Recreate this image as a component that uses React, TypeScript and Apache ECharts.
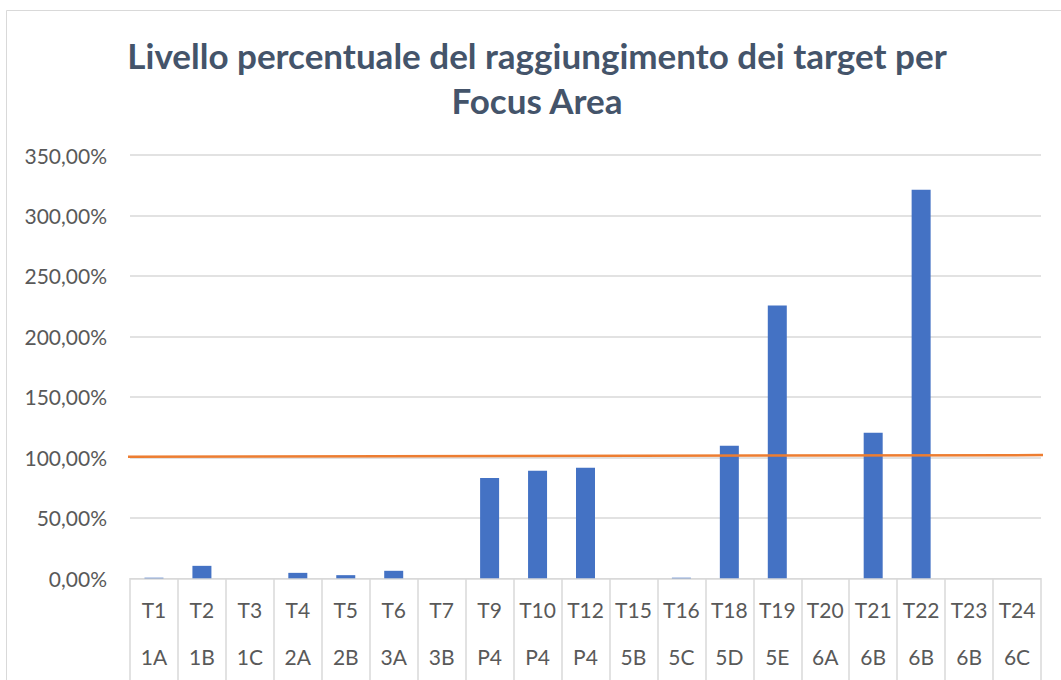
import React, { useEffect, useRef } from "react";
import * as echarts from "echarts";

const targets = ["T1", "T2", "T3", "T4", "T5", "T6", "T7", "T9", "T10", "T12", "T15", "T16", "T18", "T19", "T20", "T21", "T22", "T23", "T24"];
const focusAreas = ["1A", "1B", "1C", "2A", "2B", "3A", "3B", "P4", "P4", "P4", "5B", "5C", "5D", "5E", "6A", "6B", "6B", "6B", "6C"];
const values = [0.5, 10.3, 0, 4.5, 2.6, 6.2, 0, 82.9, 88.9, 91.4, 0, 0.5, 109.6, 225.6, 0, 120.3, 321.3, 0, 0];
// reference line (~100%), drawn slightly beyond the plot as in the original
const targetLine: [number, number][] = [[-0.0044, 100.5], [1.022, 101.9]];
const yTicks = { min: 0, max: 350, interval: 50 };

const FONT = "Lato";

export default function App() {
  const ref = useRef<HTMLDivElement>(null);
  useEffect(() => {
    if (!ref.current) return;
    const chart = echarts.init(ref.current, undefined, { renderer: "svg" });
    const labelColor = "#595959";
    const gridColor = "#d9d9d9";
    chart.setOption({
      animation: false,
      backgroundColor: "#ffffff",
      title: {
        text: "Livello percentuale del raggiungimento dei target per\nFocus Area",
        left: 537,
        textAlign: "center",
        top: 32,
        padding: 0,
        textStyle: {
          fontFamily: FONT,
          fontSize: 35,
          fontWeight: "bold",
          color: "#44546A",
          lineHeight: 45,
        },
      },
      graphic: [
        {
          type: "rect",
          shape: { x: 6.5, y: 10.5, width: 1100, height: 720 },
          style: { fill: "none", stroke: gridColor, lineWidth: 1 },
          silent: true,
        },
      ],
      grid: { left: 130, right: 20, top: 155, bottom: 101.7, containLabel: false },
      xAxis: [
        {
          type: "category",
          data: targets,
          position: "bottom",
          axisLine: { show: true, lineStyle: { color: gridColor, width: 1 } },
          axisTick: { show: true, length: 110, lineStyle: { color: gridColor, width: 1.5 } },
          axisLabel: { color: labelColor, fontFamily: FONT, fontSize: 21, margin: 21, interval: 0 },
          splitLine: { show: false },
        },
        {
          type: "category",
          data: focusAreas,
          position: "bottom",
          axisLine: { show: false },
          axisTick: { show: false },
          axisLabel: { color: labelColor, fontFamily: FONT, fontSize: 21, margin: 68, interval: 0 },
          splitLine: { show: false },
        },
        {
          type: "value",
          min: 0,
          max: 1,
          show: false,
        },
      ],
      yAxis: {
        type: "value",
        min: yTicks.min,
        max: yTicks.max,
        interval: yTicks.interval,
        axisLine: { show: false },
        axisTick: { show: false },
        axisLabel: {
          color: labelColor,
          fontFamily: FONT,
          fontSize: 21,
          margin: 23,
          formatter: (v: number) => v.toFixed(2).replace(".", ",") + "%",
        },
        splitLine: { show: true, lineStyle: { color: gridColor, width: 1.5 } },
      },
      series: [
        {
          type: "bar",
          xAxisIndex: 0,
          data: values,
          barWidth: 19,
          itemStyle: { color: "#4472C4" },
        },
        {
          type: "line",
          xAxisIndex: 2,
          data: targetLine,
          clip: false,
          symbol: "none",
          lineStyle: { color: "#ED7D31", width: 2.5 },
          z: 5,
        },
      ],
    });
    return () => chart.dispose();
  }, []);
  return <div ref={ref} style={{ position: "absolute", left: 0, top: 0, width: 1061, height: 680 }} />;
}
